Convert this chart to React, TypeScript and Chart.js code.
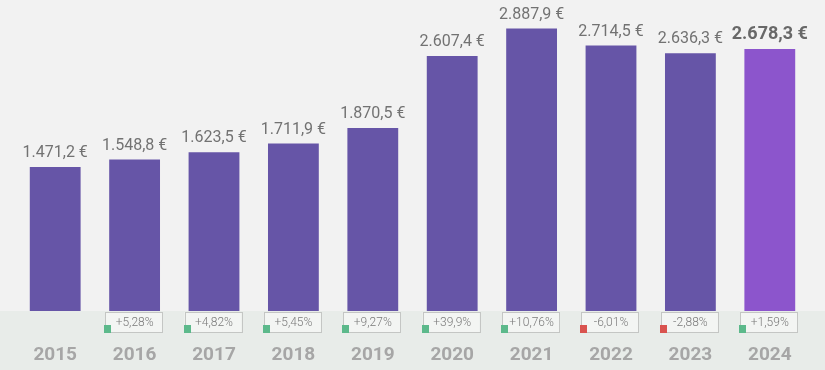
import React, { useEffect, useRef } from "react";
import { Chart, registerables } from "chart.js";

Chart.register(...registerables);

const years = ["2015", "2016", "2017", "2018", "2019", "2020", "2021", "2022", "2023", "2024"];
const values = [1471.2, 1548.8, 1623.5, 1711.9, 1870.5, 2607.4, 2887.9, 2714.5, 2636.3, 2678.3];
const valueLabels = ["1.471,2 €", "1.548,8 €", "1.623,5 €", "1.711,9 €", "1.870,5 €", "2.607,4 €", "2.887,9 €", "2.714,5 €", "2.636,3 €", "2.678,3 €"];
const changes = [null, 5.28, 4.82, 5.45, 9.27, 39.9, 10.76, -6.01, -2.88, 1.59];
const changeLabels = ["", "+5,28%", "+4,82%", "+5,45%", "+9,27%", "+39,9%", "+10,76%", "-6,01%", "-2,88%", "+1,59%"];

const BAR = "#6655a7";
const BAR_HL = "#8c55cc";
const BG = "#f2f2f2";
const BAND = "#e8ece9";

const decoPlugin = {
  id: "deco",
  beforeDraw(chart: any) {
    const { ctx, chartArea, width, height } = chart;
    ctx.save();
    ctx.fillStyle = BG;
    ctx.fillRect(0, 0, width, height);
    ctx.fillStyle = BAND;
    ctx.fillRect(0, chartArea.bottom, width, height - chartArea.bottom);
    ctx.restore();
  },
  afterDatasetsDraw(chart: any) {
    const { ctx, chartArea } = chart;
    const meta = chart.getDatasetMeta(0);
    ctx.save();
    meta.data.forEach((bar: any, i: number) => {
      const last = i === values.length - 1;
      ctx.font = last ? "bold 18px Roboto" : "16px Roboto";
      ctx.fillStyle = last ? "#686868" : "#727272";
      ctx.textAlign = "center";
      ctx.textBaseline = "alphabetic";
      ctx.fillText(valueLabels[i], bar.x, bar.y - 10);
      const c = changes[i];
      if (c !== null && c !== undefined) {
        const w = 57;
        const h = 20;
        const x0 = bar.x - w / 2 - 1;
        const y0 = chartArea.bottom + 1;
        ctx.fillStyle = "#f3f5f3";
        ctx.fillRect(x0, y0, w, h);
        ctx.strokeStyle = "#c4c6c4";
        ctx.lineWidth = 1;
        ctx.strokeRect(Math.round(x0) + 0.5, Math.round(y0) + 0.5, w, h);
        ctx.fillStyle = c >= 0 ? "#5cb98b" : "#d9534f";
        ctx.fillRect(Math.round(x0) - 1, y0 + h - 7, 7, 8);
        ctx.font = "300 12px Roboto";
        ctx.fillStyle = "#7a7a7a";
        ctx.textBaseline = "middle";
        ctx.fillText(changeLabels[i], bar.x, y0 + h / 2 + 1);
      }
    });
    ctx.restore();
  },
};

export default function App() {
  const ref = useRef<HTMLCanvasElement>(null);
  useEffect(() => {
    if (!ref.current) return;
    const chart = new Chart(ref.current, {
      type: "bar",
      data: {
        labels: years,
        datasets: [
          {
            data: values,
            backgroundColor: values.map((_, i) => (i === values.length - 1 ? BAR_HL : BAR)),
            borderWidth: 0,
            categoryPercentage: 1,
            barPercentage: 0.64,
          },
        ],
      },
      options: {
        animation: false,
        responsive: false,
        devicePixelRatio: 1,
        layout: { padding: { left: 12, right: 11.5, top: 17.6, bottom: 3 } },
        plugins: { legend: { display: false }, tooltip: { enabled: false } },
        scales: {
          x: {
            grid: { display: false, drawTicks: false },
            border: { display: false },
            afterFit: (scale: any) => {
              scale.height = 56;
            },
            ticks: {
              padding: 33,
              color: "#a6a6a6",
              font: { family: "Roboto", size: 19, weight: "bold" },
            },
          },
          y: { display: false, min: 0, max: 3000 },
        },
      },
      plugins: [decoPlugin],
    });
    return () => chart.destroy();
  }, []);
  return (
    <div style={{ position: "fixed", left: 0, top: 0, width: 825, height: 370, background: BG }}>
      <canvas ref={ref} width={825} height={370} style={{ display: "block" }} />
    </div>
  );
}
